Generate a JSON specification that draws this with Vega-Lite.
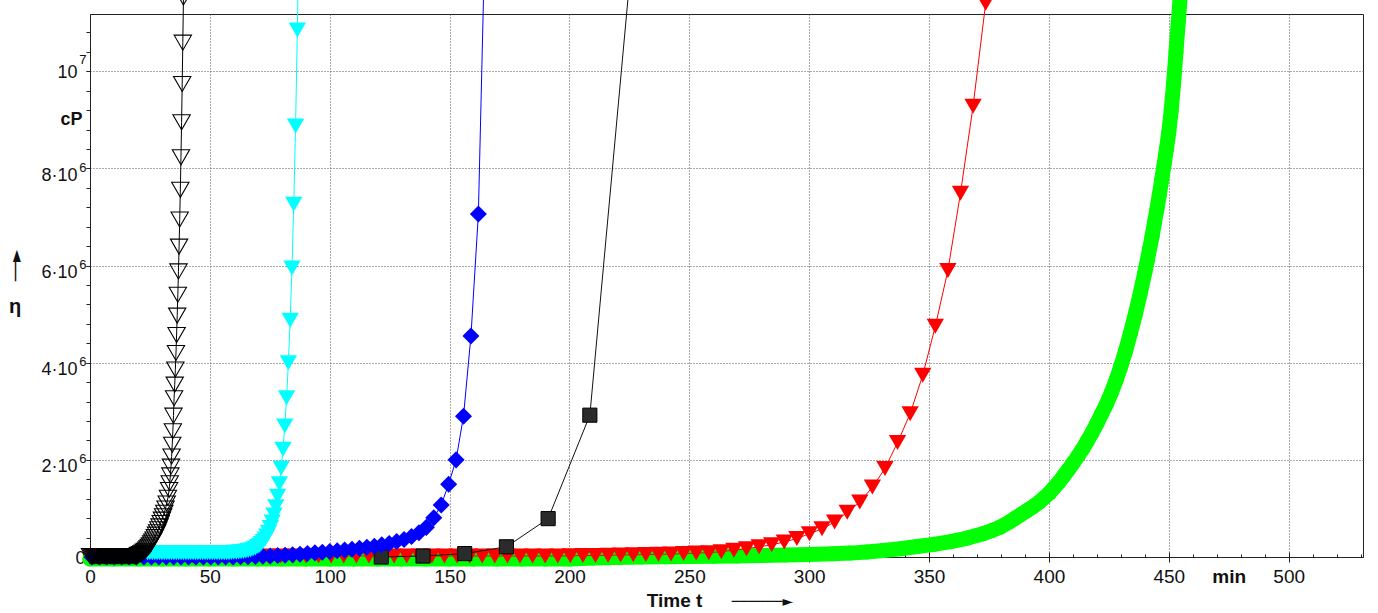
{
"$schema": "https://vega.github.io/schema/vega-lite/v6.json",
"width": 1273, "height": 543,
"autosize": {"type": "none"},
"padding": {"left": 90, "top": 14, "right": 15, "bottom": 56},
"background": "white",
"config": {
  "view": {"stroke": "#222", "strokeWidth": 1},
  "font": "Liberation Sans",
  "axis": {"labelFont": "Liberation Sans", "titleFont": "Liberation Sans", "labelColor": "#111", "titleColor": "#111", "domainColor": "#222", "tickColor": "#222", "labelFlush": false, "labelOverlap": false, "labelBound": false}
},
"resolve": {"axis": {"x": "independent", "y": "independent"}},
"datasets": {
  "blackTri": [
    {"t":0,"eta":0.02},{"t":0.5,"eta":0.02},{"t":1,"eta":0.02},{"t":1.5,"eta":0.02},{"t":2,"eta":0.02},{"t":2.5,"eta":0.02},{"t":3,"eta":0.02},{"t":3.5,"eta":0.02},{"t":4,"eta":0.02},{"t":4.5,"eta":0.02},
    {"t":5,"eta":0.02},{"t":5.5,"eta":0.02},{"t":6,"eta":0.02},{"t":6.5,"eta":0.02},{"t":7,"eta":0.02},{"t":7.5,"eta":0.02},{"t":8,"eta":0.02},{"t":8.5,"eta":0.02},{"t":9,"eta":0.02},{"t":9.5,"eta":0.02},
    {"t":10,"eta":0.02},{"t":10.5,"eta":0.02},{"t":11,"eta":0.02},{"t":11.5,"eta":0.02},{"t":12,"eta":0.02},{"t":12.5,"eta":0.02},{"t":13,"eta":0.02},{"t":13.5,"eta":0.02},{"t":14,"eta":0.02},{"t":14.5,"eta":0.02},
    {"t":15,"eta":0.02},{"t":15.5,"eta":0.02},{"t":16,"eta":0.02},{"t":16.5,"eta":0.02},{"t":17,"eta":0.02},{"t":17.5,"eta":0.02},{"t":18,"eta":0.02},{"t":18.5,"eta":0.02},{"t":19,"eta":0.02},{"t":19.5,"eta":0.02},
    {"t":20,"eta":0.04},{"t":20.5,"eta":0.05},{"t":21,"eta":0.06},{"t":21.5,"eta":0.075},{"t":22,"eta":0.09},{"t":22.5,"eta":0.11},{"t":23,"eta":0.13},{"t":23.5,"eta":0.155},{"t":24,"eta":0.18},{"t":24.5,"eta":0.21},
    {"t":25,"eta":0.24},{"t":25.5,"eta":0.28},{"t":26,"eta":0.32},{"t":26.5,"eta":0.36},{"t":27,"eta":0.41},{"t":27.5,"eta":0.46},{"t":28,"eta":0.51},{"t":28.5,"eta":0.57},{"t":29,"eta":0.63},{"t":29.5,"eta":0.70},
    {"t":30,"eta":0.77},{"t":30.5,"eta":0.84},{"t":31,"eta":0.91},{"t":31.5,"eta":1.0},{"t":32,"eta":1.1},{"t":32.5,"eta":1.22},{"t":33,"eta":1.38},{"t":33.26,"eta":1.52},{"t":33.52,"eta":1.68},{"t":33.78,"eta":1.86},
    {"t":34.04,"eta":2.07},{"t":34.3,"eta":2.31},{"t":34.56,"eta":2.59},{"t":34.82,"eta":2.91},{"t":35.08,"eta":3.27},{"t":35.34,"eta":3.55},{"t":35.6,"eta":3.86},{"t":35.86,"eta":4.2},{"t":36.12,"eta":4.57},{"t":36.38,"eta":4.97},
    {"t":36.64,"eta":5.4},{"t":36.9,"eta":5.88},{"t":37.16,"eta":6.39},{"t":37.42,"eta":6.95},{"t":37.68,"eta":7.56},{"t":37.94,"eta":8.23},{"t":38.2,"eta":8.95},{"t":38.46,"eta":9.74},{"t":38.72,"eta":10.59},{"t":38.98,"eta":11.52},{"t":39.24,"eta":12.53}
  ],
  "cyan": [
    {"t":24,"eta":0.09},{"t":25,"eta":0.09},{"t":26,"eta":0.09},{"t":27,"eta":0.09},{"t":28,"eta":0.09},{"t":29,"eta":0.09},{"t":30,"eta":0.09},{"t":31,"eta":0.09},{"t":32,"eta":0.09},{"t":33,"eta":0.09},
    {"t":34,"eta":0.09},{"t":35,"eta":0.09},{"t":36,"eta":0.09},{"t":37,"eta":0.09},{"t":38,"eta":0.09},{"t":39,"eta":0.09},{"t":40,"eta":0.09},{"t":41,"eta":0.09},{"t":42,"eta":0.09},{"t":43,"eta":0.09},
    {"t":44,"eta":0.09},{"t":45,"eta":0.09},{"t":46,"eta":0.09},{"t":47,"eta":0.09},{"t":48,"eta":0.09},{"t":49,"eta":0.09},{"t":50,"eta":0.09},{"t":51,"eta":0.09},{"t":52,"eta":0.09},{"t":53,"eta":0.09},
    {"t":54,"eta":0.09},{"t":55,"eta":0.09},{"t":56,"eta":0.09},{"t":57,"eta":0.09},{"t":58,"eta":0.09},{"t":59,"eta":0.093},{"t":60,"eta":0.097},{"t":61,"eta":0.1},{"t":62,"eta":0.104},{"t":63,"eta":0.109},
    {"t":64,"eta":0.115},{"t":65,"eta":0.122},{"t":66,"eta":0.132},{"t":67,"eta":0.146},{"t":68,"eta":0.163},{"t":69,"eta":0.185},{"t":70,"eta":0.215},{"t":70.75,"eta":0.243},{"t":71.5,"eta":0.277},{"t":72.25,"eta":0.319},
    {"t":73,"eta":0.371},{"t":73.75,"eta":0.434},{"t":74.5,"eta":0.511},{"t":75.25,"eta":0.606},{"t":76,"eta":0.721},{"t":76.75,"eta":0.863},{"t":77.5,"eta":1.037},{"t":78.25,"eta":1.249},{"t":79,"eta":1.509},{"t":79.75,"eta":1.828},
    {"t":80.5,"eta":2.218},{"t":81.25,"eta":2.696},{"t":82,"eta":3.281},{"t":82.75,"eta":3.998},{"t":83.5,"eta":4.875},{"t":84.25,"eta":5.949},{"t":85,"eta":7.265},{"t":85.75,"eta":8.875},{"t":86.5,"eta":10.848},{"t":87.25,"eta":13.26}
  ],
  "blue": [
    {"t":0.8,"eta":0},{"t":3.9,"eta":0},{"t":7,"eta":0},{"t":10.1,"eta":0},{"t":13.2,"eta":0},{"t":16.3,"eta":0},{"t":19.4,"eta":0},{"t":22.5,"eta":0},{"t":25.6,"eta":0},{"t":28.7,"eta":0},
    {"t":31.8,"eta":0},{"t":34.9,"eta":0},{"t":38,"eta":0},{"t":41.1,"eta":0},{"t":44.2,"eta":0},{"t":47.3,"eta":0},{"t":50.4,"eta":0},{"t":53.5,"eta":0},{"t":56.6,"eta":0},{"t":59.7,"eta":0},
    {"t":62.8,"eta":0.005},{"t":65.9,"eta":0.008},{"t":69,"eta":0.01},{"t":72.1,"eta":0.015},{"t":75.2,"eta":0.02},{"t":78.3,"eta":0.03},{"t":81.4,"eta":0.035},{"t":84.5,"eta":0.045},{"t":87.6,"eta":0.055},{"t":90.7,"eta":0.07},
    {"t":93.8,"eta":0.085},{"t":96.9,"eta":0.1},{"t":100,"eta":0.115},{"t":103.1,"eta":0.13},{"t":106.2,"eta":0.145},{"t":109.3,"eta":0.16},{"t":112.4,"eta":0.18},{"t":115.5,"eta":0.2},{"t":118.6,"eta":0.22},{"t":121.7,"eta":0.25},
    {"t":124.8,"eta":0.28},{"t":127.9,"eta":0.32},{"t":131,"eta":0.36},{"t":134.1,"eta":0.42},{"t":137.2,"eta":0.5},{"t":140.3,"eta":0.61},{"t":143.4,"eta":0.81},{"t":146.5,"eta":1.07},{"t":149.6,"eta":1.5},{"t":152.7,"eta":2.0},
    {"t":155.8,"eta":2.9},{"t":158.9,"eta":4.55},{"t":162,"eta":7.06},{"t":165.1,"eta":13.5}
  ],
  "squares": [
    {"t":121.5,"eta":0},{"t":138.9,"eta":0.02},{"t":156.3,"eta":0.07},{"t":173.7,"eta":0.21},{"t":191.1,"eta":0.79},{"t":208.5,"eta":2.92},{"t":225.9,"eta":12.3}
  ],
  "red": [
    {"t":0.85,"eta":0.02},{"t":6.1,"eta":0.02},{"t":11.35,"eta":0.02},{"t":16.6,"eta":0.02},{"t":21.85,"eta":0.02},{"t":27.1,"eta":0.02},{"t":32.35,"eta":0.02},{"t":37.6,"eta":0.02},{"t":42.85,"eta":0.02},{"t":48.1,"eta":0.02},
    {"t":53.35,"eta":0.02},{"t":58.6,"eta":0.02},{"t":63.85,"eta":0.02},{"t":69.1,"eta":0.02},{"t":74.35,"eta":0.02},{"t":79.6,"eta":0.02},{"t":84.85,"eta":0.02},{"t":90.1,"eta":0.02},{"t":95.35,"eta":0.02},{"t":100.6,"eta":0.02},
    {"t":105.85,"eta":0.02},{"t":111.1,"eta":0.02},{"t":116.35,"eta":0.02},{"t":121.6,"eta":0.02},{"t":126.85,"eta":0.02},{"t":132.1,"eta":0.02},{"t":137.35,"eta":0.02},{"t":142.6,"eta":0.02},{"t":147.85,"eta":0.02},{"t":153.1,"eta":0.02},
    {"t":158.35,"eta":0.02},{"t":163.6,"eta":0.02},{"t":168.85,"eta":0.02},{"t":174.1,"eta":0.02},{"t":179.35,"eta":0.02},{"t":184.6,"eta":0.02},{"t":189.85,"eta":0.02},{"t":195.1,"eta":0.02},{"t":200.35,"eta":0.025},{"t":205.6,"eta":0.03},
    {"t":210.85,"eta":0.03},{"t":216.1,"eta":0.035},{"t":221.35,"eta":0.04},{"t":226.6,"eta":0.045},{"t":231.85,"eta":0.05},{"t":237.1,"eta":0.055},{"t":242.35,"eta":0.06},{"t":247.6,"eta":0.07},{"t":252.85,"eta":0.08},{"t":258.1,"eta":0.09},
    {"t":263.35,"eta":0.11},{"t":268.6,"eta":0.14},{"t":273.85,"eta":0.17},{"t":279.1,"eta":0.21},{"t":284.35,"eta":0.25},{"t":289.6,"eta":0.31},{"t":294.85,"eta":0.38},{"t":300.1,"eta":0.48},{"t":305.35,"eta":0.58},{"t":310.6,"eta":0.72},
    {"t":315.85,"eta":0.92},{"t":321.1,"eta":1.13},{"t":326.35,"eta":1.44},{"t":331.6,"eta":1.82},{"t":336.85,"eta":2.36},{"t":342.1,"eta":2.95},{"t":347.35,"eta":3.74},{"t":352.6,"eta":4.75},{"t":357.85,"eta":5.9},{"t":363.1,"eta":7.49},
    {"t":368.35,"eta":9.28},{"t":373.6,"eta":11.4},{"t":378.85,"eta":14.0}
  ],
  "green": [
    {"t":0,"eta":-0.04},{"t":10,"eta":-0.04},{"t":20,"eta":-0.04},{"t":30,"eta":-0.04},{"t":40,"eta":-0.04},{"t":50,"eta":-0.04},{"t":60,"eta":-0.04},{"t":70,"eta":-0.04},{"t":80,"eta":-0.04},{"t":90,"eta":-0.04},
    {"t":100,"eta":-0.04},{"t":110,"eta":-0.04},{"t":120,"eta":-0.04},{"t":130,"eta":-0.04},{"t":140,"eta":-0.04},{"t":150,"eta":-0.04},{"t":160,"eta":-0.04},{"t":170,"eta":-0.04},{"t":180,"eta":-0.04},{"t":190,"eta":-0.04},
    {"t":200,"eta":-0.04},{"t":205,"eta":-0.03},{"t":210,"eta":-0.02},{"t":220,"eta":-0.01},{"t":230,"eta":0.0},{"t":240,"eta":0.005},{"t":250,"eta":0.01},{"t":260,"eta":0.015},{"t":270,"eta":0.02},{"t":280,"eta":0.03},
    {"t":290,"eta":0.04},{"t":300,"eta":0.05},{"t":310,"eta":0.065},{"t":317,"eta":0.08},{"t":324,"eta":0.105},{"t":331,"eta":0.135},{"t":338,"eta":0.17},{"t":345,"eta":0.215},{"t":352,"eta":0.26},{"t":359,"eta":0.315},
    {"t":366,"eta":0.39},{"t":372.5,"eta":0.48},{"t":376,"eta":0.54},{"t":379.5,"eta":0.61},{"t":383.5,"eta":0.72},{"t":386,"eta":0.8},{"t":388.5,"eta":0.88},{"t":391,"eta":0.96},{"t":393.5,"eta":1.04},{"t":396,"eta":1.13},
    {"t":398,"eta":1.22},{"t":400.3,"eta":1.32},{"t":402,"eta":1.42},{"t":404,"eta":1.53},{"t":406,"eta":1.66},{"t":408,"eta":1.79},{"t":410,"eta":1.93},{"t":412,"eta":2.07},{"t":414,"eta":2.22},{"t":416,"eta":2.39},
    {"t":418,"eta":2.56},{"t":420,"eta":2.75},{"t":422,"eta":2.95},{"t":424,"eta":3.15},{"t":426,"eta":3.38},{"t":428,"eta":3.64},{"t":430,"eta":3.93},{"t":432,"eta":4.25},{"t":434,"eta":4.61},{"t":436,"eta":4.99},
    {"t":438,"eta":5.41},{"t":440,"eta":5.86},{"t":441,"eta":6.1},{"t":442,"eta":6.35},{"t":443,"eta":6.6},{"t":444,"eta":6.88},{"t":445,"eta":7.15},{"t":446,"eta":7.45},{"t":447,"eta":7.75},{"t":448,"eta":8.07},
    {"t":449,"eta":8.4},{"t":450,"eta":8.75},{"t":451,"eta":9.2},{"t":452,"eta":9.75},{"t":453,"eta":10.4},{"t":454,"eta":11.05},{"t":455,"eta":11.7},{"t":456,"eta":12.4}
  ]
},
"layer": [
  {
    "data": {"name": "green"},
    "mark": {"type": "line", "color": "#00ff00", "strokeWidth": 15, "strokeCap": "round", "strokeJoin": "round"},
    "encoding": {
      "x": {"field": "t", "type": "quantitative", "scale": {"domain": [0, 531], "nice": false, "zero": false},
        "axis": {"orient": "bottom", "values": [0,50,100,150,200,250,300,350,400,450,500], "grid": true, "gridColor": "#555", "gridDash": [1,2], "gridWidth": 1, "tickSize": 5, "domain": true, "labelFontSize": 19, "labelPadding": 5, "title": null}},
      "y": {"field": "eta", "type": "quantitative", "scale": {"domain": [0, 11.18], "nice": false, "zero": false},
        "axis": {"orient": "left", "values": [0,2,4,6,8,10], "grid": true, "gridColor": "#555", "gridDash": [1,2], "gridWidth": 1, "tickSize": 4, "domain": true, "labelFontSize": 18,
          "labelExpr": "datum.value == 0 ? '0' : datum.value == 10 ? '10' : datum.value + '·10'",
          "labelPadding": {"condition": {"test": "datum.value == 0", "value": 1}, "value": 9},
          "labelOffset": {"condition": {"test": "datum.value == 0 || datum.value == 10", "value": 1}, "value": 7},
          "title": null}}
    }
  },
  {
    "data": {"name": "green"},
    "mark": {"type": "point", "shape": "circle", "filled": true, "color": "#00ff00", "opacity": 1, "size": 225},
    "encoding": {
      "x": {"field": "t", "type": "quantitative", "scale": {"domain": [0, 531], "nice": false, "zero": false},
        "axis": {"orient": "bottom", "values": [0,10,20,30,40,50,60,70,80,90,100,110,120,130,140,150,160,170,180,190,200,210,220,230,240,250,260,270,280,290,300,310,320,330,340,350,360,370,380,390,400,410,420,430,440,450,460,470,480,490,500,510,520,530],
          "grid": false, "labels": false, "domain": false,
          "tickSize": {"condition": {"test": "datum.value % 50 == 0", "value": -5}, "value": -3},
          "title": "──────►", "titleFont": "DejaVu Sans", "titleFontSize": 14, "titleFontWeight": "normal", "titleX": 672, "titleY": 44, "titleAlign": "center", "titleBaseline": "middle"}},
      "y": {"field": "eta", "type": "quantitative", "scale": {"domain": [0, 11.18], "nice": false, "zero": false},
        "axis": {"orient": "left", "values": [0,0.4,0.8,1.2,1.6,2,2.4,2.8,3.2,3.6,4,4.4,4.8,5.2,5.6,6,6.4,6.8,7.2,7.6,8,8.4,8.8,9.2,9.6,10,10.4,10.8],
          "grid": false, "labels": false, "domain": false, "tickSize": 4, "title": null}}
    }
  },
  {
    "data": {"name": "red"},
    "mark": {"type": "line", "color": "#ff0000", "strokeWidth": 1},
    "encoding": {
      "x": {"field": "t", "type": "quantitative", "scale": {"domain": [0, 531], "nice": false, "zero": false},
        "axis": {"orient": "bottom", "values": [475], "labelExpr": "'min'", "labelFontWeight": "bold", "labelFontSize": 19, "ticks": false, "domain": false, "grid": false, "labelPadding": 10,
          "title": "Time t", "titleFontWeight": "bold", "titleFontSize": 19, "titleX": 584, "titleY": 43, "titleAlign": "center", "titleBaseline": "middle"}},
      "y": {"field": "eta", "type": "quantitative", "scale": {"domain": [0, 11.18], "nice": false, "zero": false},
        "axis": {"orient": "left", "values": [2,4,6,8,10], "labelExpr": "datum.value == 10 ? '7' : '6'", "labelFontSize": 13, "ticks": false, "domain": false, "grid": false, "labelPadding": 4,
          "labelOffset": {"condition": {"test": "datum.value == 10", "value": -12}, "value": -1},
          "title": "──►", "titleFont": "DejaVu Sans", "titleFontSize": 16, "titleFontWeight": "bold", "titleAngle": -90, "titleX": -74.5, "titleY": 251, "titleAlign": "center", "titleBaseline": "middle"}}
    }
  },
  {
    "data": {"name": "red"},
    "mark": {"type": "point", "shape": "triangle-down", "filled": true, "color": "#ff0000", "opacity": 1, "size": 300},
    "encoding": {
      "x": {"field": "t", "type": "quantitative", "scale": {"domain": [0, 531], "nice": false, "zero": false}, "axis": null},
      "y": {"field": "eta", "type": "quantitative", "scale": {"domain": [0, 11.18], "nice": false, "zero": false},
        "axis": {"orient": "left", "values": [9.0], "labelExpr": "'cP'", "labelFontWeight": "bold", "labelFontSize": 18, "ticks": false, "domain": false, "grid": false, "labelPadding": 8,
          "title": "η", "titleFontWeight": "bold", "titleFontSize": 20, "titleAngle": 0, "titleX": -75.5, "titleY": 298, "titleAlign": "center", "titleBaseline": "alphabetic"}}
    }
  },
  {
    "data": {"name": "squares"},
    "mark": {"type": "line", "color": "#111", "strokeWidth": 1},
    "encoding": {
      "x": {"field": "t", "type": "quantitative", "scale": {"domain": [0, 531], "nice": false, "zero": false}, "axis": null},
      "y": {"field": "eta", "type": "quantitative", "scale": {"domain": [0, 11.18], "nice": false, "zero": false}, "axis": null}
    }
  },
  {
    "data": {"name": "squares"},
    "mark": {"type": "point", "shape": "square", "filled": true, "color": "#2b2b2b", "stroke": "#000", "strokeWidth": 1, "opacity": 1, "size": 200},
    "encoding": {
      "x": {"field": "t", "type": "quantitative", "scale": {"domain": [0, 531], "nice": false, "zero": false}, "axis": null},
      "y": {"field": "eta", "type": "quantitative", "scale": {"domain": [0, 11.18], "nice": false, "zero": false}, "axis": null}
    }
  },
  {
    "data": {"name": "blue"},
    "mark": {"type": "line", "color": "#0000ff", "strokeWidth": 1},
    "encoding": {
      "x": {"field": "t", "type": "quantitative", "scale": {"domain": [0, 531], "nice": false, "zero": false}, "axis": null},
      "y": {"field": "eta", "type": "quantitative", "scale": {"domain": [0, 11.18], "nice": false, "zero": false}, "axis": null}
    }
  },
  {
    "data": {"name": "blue"},
    "mark": {"type": "point", "shape": "diamond", "filled": true, "color": "#0000ff", "opacity": 1, "size": 290},
    "encoding": {
      "x": {"field": "t", "type": "quantitative", "scale": {"domain": [0, 531], "nice": false, "zero": false}, "axis": null},
      "y": {"field": "eta", "type": "quantitative", "scale": {"domain": [0, 11.18], "nice": false, "zero": false}, "axis": null}
    }
  },
  {
    "data": {"name": "cyan"},
    "mark": {"type": "line", "color": "#00ffff", "strokeWidth": 1},
    "encoding": {
      "x": {"field": "t", "type": "quantitative", "scale": {"domain": [0, 531], "nice": false, "zero": false}, "axis": null},
      "y": {"field": "eta", "type": "quantitative", "scale": {"domain": [0, 11.18], "nice": false, "zero": false}, "axis": null}
    }
  },
  {
    "data": {"name": "cyan"},
    "mark": {"type": "point", "shape": "triangle-down", "filled": true, "color": "#00ffff", "opacity": 1, "size": 300},
    "encoding": {
      "x": {"field": "t", "type": "quantitative", "scale": {"domain": [0, 531], "nice": false, "zero": false}, "axis": null},
      "y": {"field": "eta", "type": "quantitative", "scale": {"domain": [0, 11.18], "nice": false, "zero": false}, "axis": null}
    }
  },
  {
    "data": {"name": "blackTri"},
    "mark": {"type": "line", "color": "#000", "strokeWidth": 1},
    "encoding": {
      "x": {"field": "t", "type": "quantitative", "scale": {"domain": [0, 531], "nice": false, "zero": false}, "axis": null},
      "y": {"field": "eta", "type": "quantitative", "scale": {"domain": [0, 11.18], "nice": false, "zero": false}, "axis": null}
    }
  },
  {
    "data": {"name": "blackTri"},
    "mark": {"type": "point", "shape": "triangle-down", "filled": false, "color": "#000", "strokeWidth": 1.1, "opacity": 1, "size": 300},
    "encoding": {
      "x": {"field": "t", "type": "quantitative", "scale": {"domain": [0, 531], "nice": false, "zero": false}, "axis": null},
      "y": {"field": "eta", "type": "quantitative", "scale": {"domain": [0, 11.18], "nice": false, "zero": false}, "axis": null}
    }
  }
]
}
